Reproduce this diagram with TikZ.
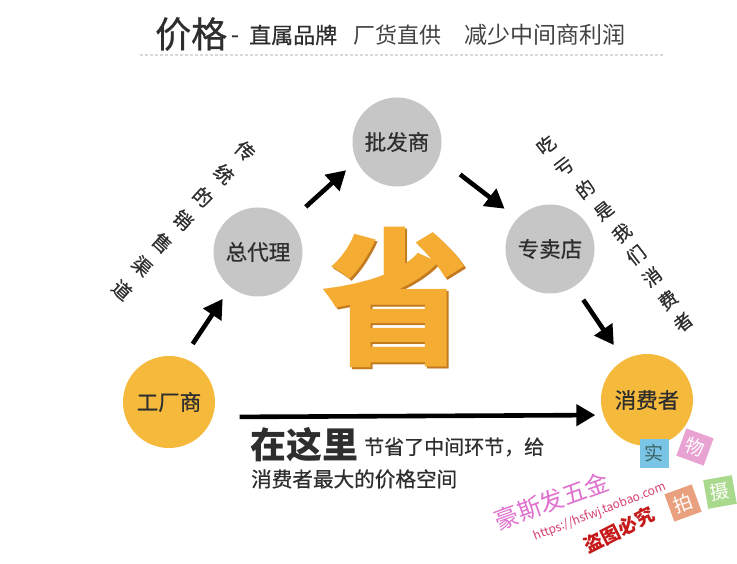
\documentclass[tikz,border=0pt]{standalone}
\usepackage{fontspec}
\setmainfont{Noto Sans CJK SC}
\newfontfamily\cjkmid[FakeBold=0.6]{Noto Sans CJK SC}
\usetikzlibrary{arrows.meta}
\definecolor{goldc}{HTML}{F5B93C}
\definecolor{greyc}{HTML}{C6C6C6}
\definecolor{shengc}{HTML}{F4AD32}
\definecolor{shadowc}{HTML}{C27A20}
\definecolor{inkc}{HTML}{2E2E2E}
\definecolor{pinkc}{HTML}{E070CF}
\definecolor{redc}{HTML}{D8406E}
\newcommand{\fs}[1]{\fontsize{#1}{#1}\selectfont}
\begin{document}
\begin{tikzpicture}[x=1pt,y=-1pt,
  yellowc/.style={circle,fill=goldc,minimum size=92pt,inner sep=0pt,font=\cjkmid\fs{21.5},text=inkc},
  grayc/.style={circle,fill=greyc,minimum size=89pt,inner sep=0pt,font=\cjkmid\fs{21.5},text=inkc},
  arr/.style={line width=4.6pt,-{Triangle[length=19pt,width=21pt]}},
  lch/.style={inner sep=0pt,font=\cjkmid\fs{19},text=inkc,rotate=-42},
  rch/.style={inner sep=0pt,font=\cjkmid\fs{18.5},text=inkc,rotate=38},
  tile/.style={minimum size=29pt,inner sep=0pt,font=\fs{19}}]
\fill[white] (0,0) rectangle (737,564);
\useasboundingbox (0,0) rectangle (737,564);
% title
\node[anchor=west,inner sep=0pt,font=\cjkmid\fs{36},text=inkc] (t1) at (155,34) {价格};
\node[anchor=west,inner sep=0pt,font=\cjkmid\fs{22},text=inkc] (t2) at (231,39) {-};
\node[anchor=west,inner sep=0pt,font=\cjkmid\fs{22},text=inkc] (t3) at (249,35) {直属品牌};
\node[anchor=west,inner sep=0pt,font=\fs{22},text=inkc!90] (t4) at (353,35) {厂货直供};
\node[anchor=west,inner sep=0pt,font=\fs{23},text=inkc!90] (t5) at (464,35) {减少中间商利润};
\draw[gray!30,line width=1.2pt,dash pattern=on 3pt off 2pt] (140,55) -- (665,55);
% circles
\node[yellowc] (gc) at (169,402) {工厂商};
\node[grayc] (zdl) at (258,252) {总代理};
\node[grayc] (pfs) at (397,142) {批发商};
\node[grayc] (zmd) at (550,249) {专卖店};
\node[yellowc] (xfz) at (647,400) {消费者};
% arrows
\draw[arr,shorten <=17pt,shorten >=14pt] (gc.72) -- (zdl.232);
\draw[arr,shorten <=21pt,shorten >=14pt] (zdl.44) -- (pfs.205);
\draw[arr,shorten <=27pt,shorten >=16pt] (pfs.-21) -- (zmd.137);
\draw[arr,shorten <=16pt,shorten >=18pt] (zmd.-57) -- (xfz.120);
\draw[arr,shorten <=27pt,shorten >=8pt] (gc.-19) -- (xfz.199);
% left slogan
\node[lch] (l1) at (245,151) {传};
\node[lch] (l2) at (224,174) {统};
\node[lch] (l3) at (203,197) {的};
\node[lch] (l4) at (183,220) {销};
\node[lch] (l5) at (162,243) {售};
\node[lch] (l6) at (142,266) {渠};
\node[lch] (l7) at (122,290) {道};
% right slogan
\node[rch] (r1) at (546,145) {吃};
\node[rch] (r2) at (564,167) {亏};
\node[rch] (r3) at (585,189) {的};
\node[rch] (r4) at (604,211) {是};
\node[rch] (r5) at (622,233) {我};
\node[rch] (r6) at (636,255) {们};
\node[rch] (r7) at (652,277) {消};
\node[rch] (r8) at (668,300) {费};
\node[rch] (r9) at (683,322) {者};
% big character
\node[inner sep=0pt,font=\fs{148}\bfseries,text=shadowc] (shs) at (397,299) {省};
\node[inner sep=0pt,font=\fs{148}\bfseries,text=shengc] (sh) at (395,297) {省};
% bottom text
\node[anchor=west,inner sep=0pt,font=\fs{36}\bfseries,text=inkc] (b1) at (250,445) {在这里};
\node[anchor=west,inner sep=0pt,font=\cjkmid\fs{20},text=inkc] (b2) at (364,447) {节省了中间环节，给};
\node[anchor=west,inner sep=0pt,font=\cjkmid\fs{20.6},text=inkc] (b3) at (251,479) {消费者最大的价格空间};
% watermark
\node[inner sep=0pt,font=\fs{24},text=pinkc,rotate=20] (w1) at (552,501) {豪斯发五金};
\node[inner sep=0pt,font=\fs{12},text=redc,rotate=21] (w2) at (600,512) {https://hsfwj.taobao.com};
\node[inner sep=0pt,font=\fs{19}\bfseries,text=red!75!black!90,rotate=27] (w3) at (619,530) {盗图必究};
\node[tile,fill={rgb,255:red,122;green,196;blue,230},text={rgb,255:red,60;green,100;blue,100}] (k1) at (654,453) {实};
\node[tile,fill={rgb,255:red,232;green,163;blue,211},text=white,rotate=-20] (k2) at (695,447) {物};
\node[tile,fill={rgb,255:red,233;green,160;blue,126},text=white,rotate=20] (k3) at (683,503) {拍};
\node[tile,fill={rgb,255:red,169;green,217;blue,140},text=white,rotate=10] (k4) at (720,492) {摄};
\end{tikzpicture}
\end{document}
